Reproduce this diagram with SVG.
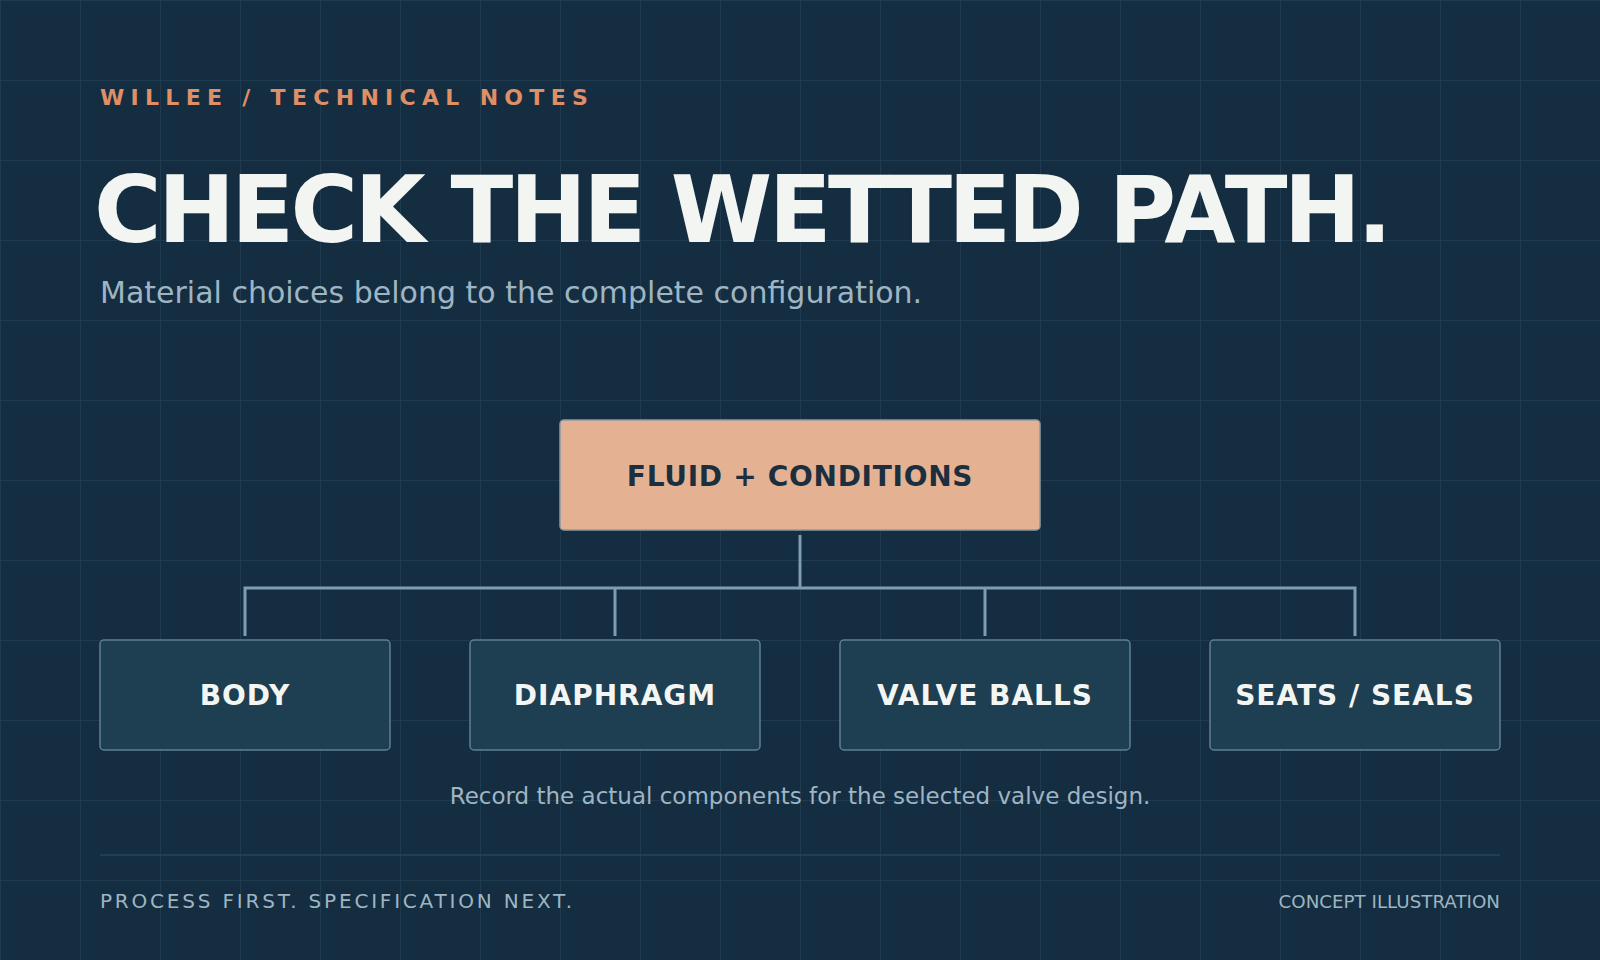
<svg xmlns="http://www.w3.org/2000/svg" width="1600" height="960" viewBox="0 0 1600 960">
  <defs>
    <pattern id="grid" width="80" height="80" patternUnits="userSpaceOnUse">
      <path d="M0 0.5 H80 M0.5 0 V80" fill="none" stroke="#1e3b4f" stroke-width="1"/>
    </pattern>
    <style>
      text { font-family: "DejaVu Sans", "Liberation Sans", sans-serif; }
      .eyebrow { font-size: 22px; font-weight: bold; fill: #e08e66; letter-spacing: 6.3px; }
      .title { font-size: 92px; font-weight: bold; fill: #f3f5f2; letter-spacing: -3.6px; }
      .sub { font-size: 30px; fill: #9fb5c3; }
      .root-box { fill: #e5b193; stroke: #8c9aa4; stroke-width: 1.5; }
      .root-label { font-size: 28px; font-weight: bold; fill: #1b2f3f; letter-spacing: 0.7px; text-anchor: middle; }
      .leaf-box { fill: #1e3e51; stroke: #5f7f93; stroke-width: 1.5; }
      .leaf-label { font-size: 28px; font-weight: bold; fill: #f3f5f2; letter-spacing: 1px; text-anchor: middle; }
      .conn { fill: none; stroke: #7d9db1; stroke-width: 3; }
      .note { font-size: 23px; fill: #9fb5c3; text-anchor: middle; }
      .foot-l { font-size: 20px; fill: #9fb5c3; letter-spacing: 2.8px; }
      .foot-r { font-size: 18.25px; fill: #9fb5c3; text-anchor: end; }
    </style>
  </defs>
  <rect width="1600" height="960" fill="#142d40"/>
  <rect width="1600" height="960" fill="url(#grid)"/>

  <text class="eyebrow" x="100" y="105">WILLEE / TECHNICAL NOTES</text>
  <text class="title" x="94" y="242">CHECK THE WETTED PATH.</text>
  <text class="sub" x="100" y="303">Material choices belong to the complete configuration.</text>

  <g id="connectors">
    <path class="conn" d="M800 535 V588"/>
    <path class="conn" d="M245 636 V588 H1355 V636"/>
    <path class="conn" d="M615 588 V636"/>
    <path class="conn" d="M985 588 V636"/>
  </g>

  <g id="node-fluid">
    <rect class="root-box" x="560" y="420" width="480" height="110" rx="4"/>
    <text class="root-label" x="800" y="486">FLUID + CONDITIONS</text>
  </g>
  <g id="node-body">
    <rect class="leaf-box" x="100" y="640" width="290" height="110" rx="4"/>
    <text class="leaf-label" x="245" y="705">BODY</text>
  </g>
  <g id="node-diaphragm">
    <rect class="leaf-box" x="470" y="640" width="290" height="110" rx="4"/>
    <text class="leaf-label" x="615" y="705">DIAPHRAGM</text>
  </g>
  <g id="node-valve-balls">
    <rect class="leaf-box" x="840" y="640" width="290" height="110" rx="4"/>
    <text class="leaf-label" x="985" y="705">VALVE BALLS</text>
  </g>
  <g id="node-seats-seals">
    <rect class="leaf-box" x="1210" y="640" width="290" height="110" rx="4"/>
    <text class="leaf-label" x="1355" y="705">SEATS / SEALS</text>
  </g>

  <text class="note" x="800" y="804">Record the actual components for the selected valve design.</text>

  <line x1="100" y1="855" x2="1500" y2="855" stroke="#26465a" stroke-width="1.5"/>
  <text class="foot-l" x="100" y="908">PROCESS FIRST. SPECIFICATION NEXT.</text>
  <text class="foot-r" x="1500" y="908">CONCEPT ILLUSTRATION</text>
</svg>
